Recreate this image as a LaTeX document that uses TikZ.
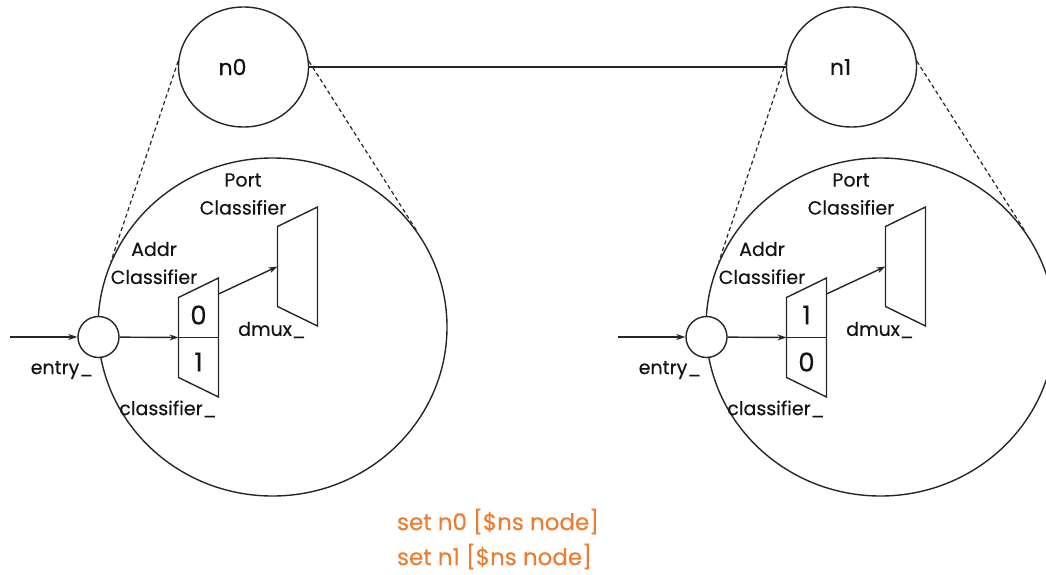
\documentclass[tikz,border=0pt]{standalone}
\usepackage{fontspec}
\setmainfont{Poppins}[FakeBold=0.35]
\usepackage{xcolor}
\definecolor{cLine}{HTML}{262626}
\definecolor{cText}{HTML}{141414}
\definecolor{cCode}{HTML}{ED7D31}
\usetikzlibrary{positioning,arrows.meta,shapes.geometric}
\tikzset{
  node-host/.style={draw=cLine,line width=1.4pt,ellipse,minimum width=130pt,
    minimum height=120pt,inner sep=0pt},
  node-host-name/.style={font=\fontsize{22}{26}\selectfont,inner sep=0pt,text=cText},
  node-zoom/.style={draw=cLine,line width=1.4pt,ellipse,minimum width=349pt,
    minimum height=338pt,inner sep=0pt},
  node-entry/.style={draw=cLine,fill=white,line width=1.4pt,circle,minimum size=41pt,inner sep=0pt},
  node-label/.style={font=\fontsize{19}{28}\selectfont,align=center,inner sep=0pt,text=cText},
  node-digit/.style={font=\fontsize{26}{30}\selectfont,inner sep=0pt,text=cText},
  node-code/.style={font=\fontsize{23}{35}\selectfont,align=left,inner sep=0pt,text=cCode},
  link/.style={line width=1.4pt,draw=cLine},
  arrow/.style={-{Stealth[length=9pt,width=6pt]},line width=1.4pt,draw=cLine},
  arrow-zoom/.style={dash pattern=on 4pt off 3pt,line width=1.2pt,draw=cLine},
  % trapezoid of a classifier: short side left, long side right
  mux/.pic={
    \draw[link] (-20,-40) -- (20,-59.5) -- (20,59.5) -- (-20,40) -- cycle;
    \coordinate (-in) at (-20,0);
    \coordinate (-east) at (20,0);
    \coordinate (-out) at (20,-43.5);
  },
}

\begin{document}
\begin{tikzpicture}[x=1pt,y=-1pt]
  \useasboundingbox (0,0) rectangle (1046,575);
  \foreach \k/\dx/\up/\dn in {0/0/0/1,1/608/1/0}{
    \begin{scope}[xshift=\dx pt]
      \node[node-host,label={[node-host-name,xshift=-11pt]center:n\k}] (n\k) at (243.5,67) {};
      \node[node-zoom] (big\k) at (272.5,327) {};
      \node[node-entry] (entry\k) at (98.5,337) {};
      \coordinate (src\k) at (10,337);
      \pic (cls\k) at (198.5,337.5) {mux};
      \pic (dmux\k) at (297.5,266.5) {mux};
      \node[node-digit] (up\k) at (198.5,315) {\up};
      \node[node-digit] (dn\k) at (198.5,362) {\dn};
      \node[node-label] (port\k) at (243,194) {Port\\Classifier};
      \node[node-label] (addr\k) at (154,263) {Addr\\Classifier};
      \node[node-label] (dmuxname\k) at (272,330) {dmux\_};
      \node[node-label] (entryname\k) at (62,370) {entry\_};
      \node[node-label] (clsname\k) at (168,409) {classifier\_};
      \draw[arrow-zoom] (n\k.175) -- (big\k.158);
      \draw[arrow-zoom] (n\k.5) -- (big\k.34);
      \draw[link] (cls\k-in) -- (cls\k-east);
      \draw[arrow] (src\k) -- (entry\k);
      \draw[arrow] (entry\k) -- (cls\k-in);
      \draw[arrow] (cls\k-out) -- (dmux\k-in);
    \end{scope}
  }
  \draw[link] (n0) -- (n1);
  \node[node-code] (nsdef) at (498,539) {set n0 [\$ns node]\\set n1 [\$ns node]};
\end{tikzpicture}
\end{document}
